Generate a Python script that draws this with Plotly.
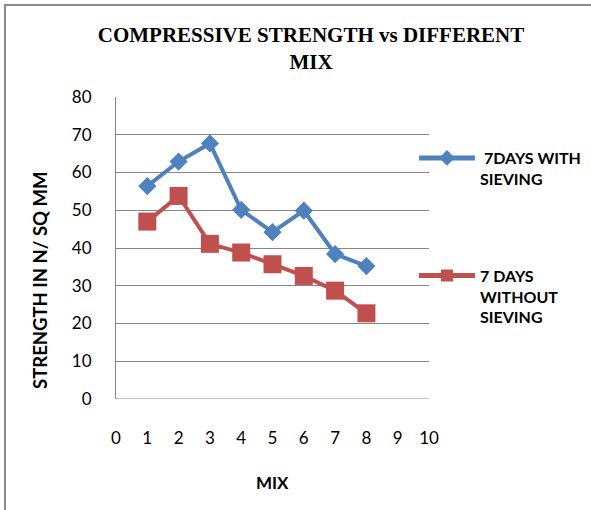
import plotly.graph_objects as go

# Mix numbers and 7-day compressive strengths (N/sq mm)
mix = [1, 2, 3, 4, 5, 6, 7, 8]
with_sieving = [56.4, 62.9, 67.7, 50.1, 44.2, 49.9, 38.4, 35.2]
without_sieving = [47.0, 53.8, 41.1, 38.8, 35.7, 32.6, 28.7, 22.7]
x_ticks = list(range(0, 11))
y_ticks = list(range(0, 81, 10))

W, H = 591, 510
L, R, T, B = 116, 162, 97, 111
pw, ph = W - L - R, H - T - B

body_font = "Lato, 'Open Sans', sans-serif"
grid_col = "#868686"

fig = go.Figure()
fig.add_trace(go.Scatter(
    x=mix, y=with_sieving, mode="lines+markers",
    name=" 7DAYS WITH<br>SIEVING", legendgroup="a",
    line=dict(color="#4F81BD", width=4),
    marker=dict(symbol="diamond", size=14, color="#4F81BD"),
))
fig.add_trace(go.Scatter(
    x=mix, y=without_sieving, mode="lines+markers",
    name="7 DAYS<br>WITHOUT<br>SIEVING", legendgroup="b",
    line=dict(color="#C0504D", width=4),
    marker=dict(symbol="square", size=18, color="#C0504D"),
))

def px_x(v):
    return (v - L) / pw

def px_y(v):
    return (H - B - v) / ph

fig.update_layout(
    width=W, height=H,
    margin=dict(l=L, r=R, t=T, b=B, pad=0, autoexpand=False),
    paper_bgcolor="white", plot_bgcolor="white",
    font=dict(family=body_font, size=17, color="black"),
    showlegend=True,
    legend=dict(
        x=px_x(414), y=px_y(141), xanchor="left", yanchor="top",
        font=dict(family=body_font, size=16, color="black", weight="bold"),
        tracegroupgap=73, itemwidth=56, itemsizing="constant",
        valign="top", bgcolor="rgba(0,0,0,0)",
    ),
    xaxis=dict(
        range=[0, 10], tickvals=x_ticks, showgrid=False, zeroline=False,
        showline=False, ticks="", ticklabelstandoff=27,
        tickfont=dict(family=body_font, size=17),
    ),
    yaxis=dict(
        range=[0, 80], tickvals=y_ticks, showgrid=True, gridcolor=grid_col,
        gridwidth=1, zeroline=False, showline=True, linecolor=grid_col,
        linewidth=1, ticks="", ticklabelstandoff=20,
        tickfont=dict(family=body_font, size=17),
    ),
    title=dict(
        text="COMPRESSIVE STRENGTH vs DIFFERENT<br>MIX",
        xref="container", yref="container",
        x=311 / W, xanchor="center", y=1 - 42 / H, yanchor="top",
        font=dict(family="'Liberation Serif', 'Times New Roman', serif",
                  size=21, color="black", weight="bold"),
    ),
    annotations=[
        dict(text="<b>STRENGTH IN N/ SQ MM</b>", textangle=-90,
             xref="paper", yref="paper", x=px_x(40), y=px_y(281),
             xanchor="center", yanchor="middle",
             showarrow=False, font=dict(family=body_font, size=18.5)),
        dict(text="<b>MIX</b>", xref="paper", yref="paper",
             x=px_x(272), y=px_y(482), xanchor="center", yanchor="middle",
             showarrow=False, font=dict(family=body_font, size=17)),
    ],
    shapes=[
        # gridline along zero
        dict(type="line", xref="x", yref="y", x0=0, x1=10, y0=0, y1=0,
             line=dict(color=grid_col, width=1)),
        # outer frame (top and left edges)
        dict(type="line", xref="paper", yref="paper",
             x0=px_x(5), x1=px_x(W + 5), y0=px_y(5), y1=px_y(5),
             line=dict(color="#8c8c8c", width=2)),
        dict(type="line", xref="paper", yref="paper",
             x0=px_x(5), x1=px_x(5), y0=px_y(4), y1=px_y(H + 5),
             line=dict(color="#8c8c8c", width=2)),
    ],
)

fig.write_html("out.html")
